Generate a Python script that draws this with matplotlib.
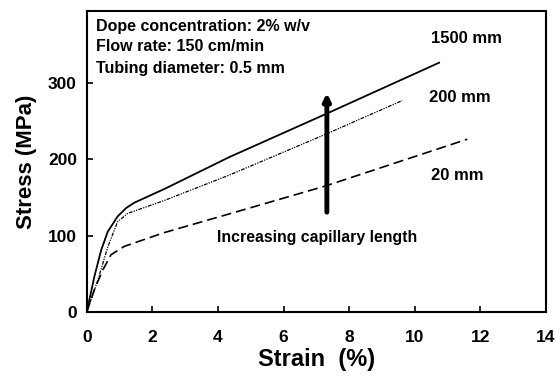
import matplotlib
matplotlib.use('Agg')
import matplotlib.pyplot as plt

# curves (strain %, stress MPa)
strain_1500 = [0, 0.23, 0.44, 0.64, 0.94, 1.2, 1.45, 2.37, 4.34, 7.29, 10.74]
stress_1500 = [0, 46, 81, 105, 125, 136, 143, 161, 202.5, 259, 326]

strain_200 = [0, 0.34, 0.64, 0.94, 1.25, 2.37, 4.34, 7.29, 9.62]
stress_200 = [0, 42, 85, 118, 129, 146, 179, 232.6, 276.6]

strain_20 = [0, 0.23, 0.49, 0.74, 1.15, 2.37, 4.34, 7.29, 11.6]
stress_20 = [0, 29, 55, 75, 86, 104, 128.3, 165, 226]

xticks = [0, 2, 4, 6, 8, 10, 12, 14]
yticks = [0, 100, 200, 300]

plt.rcParams['font.family'] = ['Liberation Sans', 'DejaVu Sans']
plt.rcParams['font.weight'] = 'bold'

fig = plt.figure(figsize=(5.56, 3.76), dpi=100)
ax = fig.add_axes([0.156, 0.170, 0.826, 0.8015])

ax.plot(strain_1500, stress_1500, '-k', lw=1.3)
ax.plot(strain_200, stress_200, color='k', lw=0.9, dashes=[3, 1, 1, 1, 1, 1])
ax.plot(strain_20, stress_20, color='k', lw=1.2, dashes=[6, 3])

ax.set_xlim(0, 14)
ax.set_ylim(0, 394)
ax.set_xticks(xticks)
ax.set_yticks(yticks)
ax.tick_params(direction='in', length=4, width=1.2, labelsize=12.5)
ax.tick_params(axis='x', pad=13)
ax.tick_params(axis='y', pad=7)
for s in ax.spines.values():
    s.set_linewidth(1.5)

ax.set_xlabel('Strain  (%)', fontsize=17, fontweight='bold', labelpad=2)
ax.set_ylabel('Stress (MPa)', fontsize=16, fontweight='bold', labelpad=8)

ax.text(0.27, 373, 'Dope concentration: 2% w/v', fontsize=11.5, va='center')
ax.text(0.27, 347, 'Flow rate: 150 cm/min', fontsize=11.5, va='center')
ax.text(0.27, 319, 'Tubing diameter: 0.5 mm', fontsize=11.5, va='center')

ax.text(10.49, 358, '1500 mm', fontsize=12, va='center')
ax.text(10.43, 281, '200 mm', fontsize=12, va='center')
ax.text(10.49, 179, '20 mm', fontsize=12, va='center')
ax.text(7.02, 98, 'Increasing capillary length', fontsize=11.4, ha='center', va='center')

ax.annotate('', xy=(7.32, 290), xytext=(7.32, 127),
            arrowprops=dict(arrowstyle='-|>', color='k', lw=3.5, mutation_scale=10))

fig.savefig('out.png', dpi=100)
